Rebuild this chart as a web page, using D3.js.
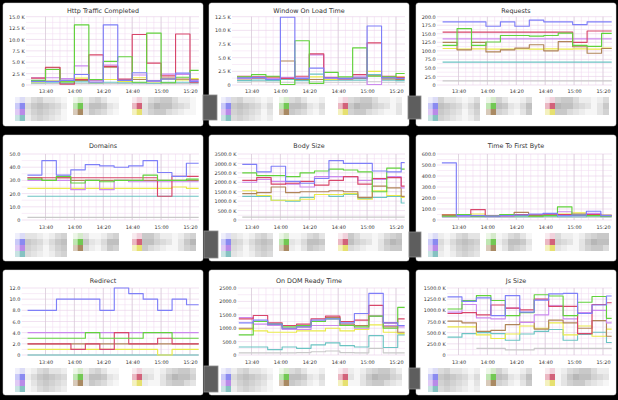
<!DOCTYPE html>
<html>
<head>
<meta charset="utf-8">
<script src="https://cdn.jsdelivr.net/npm/d3@7/dist/d3.min.js"></script>
<style>
  html, body { margin: 0; padding: 0; background: #000; }
  svg { display: block; }
  text { font-family: "DejaVu Sans", sans-serif; }
</style>
</head>
<body>
<div id="chart"></div>
<script>
// Series order used by every panel below
const seriesKeys = ['blue', 'green', 'red', 'purple', 'brown', 'yellow', 'teal', 'gray'];

// One value per 10 minute block (12 blocks), in seriesKeys order
const httpTraffic = [
    [0.8, 0.8, 1.0, 2.3, 0.6, 13.2, 1.0, 2.7, 0.9, 1.3, 2.6, 0.8],
    [1.0, 3.4, 0.7, 13.2, 1.2, 5.2, 6.2, 0.6, 11.4, 0.5, 1.7, 3.2],
    [1.5, 3.9, 0.2, 1.2, 6.6, 4.1, 1.3, 11.1, 4.8, 2.0, 11.2, 0.6],
    [1.6, 1.6, 1.4, 4.2, 0.9, 4.4, 1.0, 2.2, 0.8, 2.4, 2.3, 1.0],
    [0.9, 3.8, 1.4, 1.0, 1.0, 3.9, 1.1, 1.2, 0.9, 1.5, 1.3, 1.2],
    [0.7, 0.9, 0.8, 1.5, 0.5, 1.2, 0.8, 1.6, 0.7, 1.2, 1.1, 1.4],
    [0.5, 0.6, 0.4, 0.7, 0.4, 0.6, 0.5, 0.5, 0.4, 0.6, 0.6, 0.5],
    [0.3, 0.3, 0.3, 0.3, 0.3, 0.3, 0.3, 0.3, 0.3, 0.3, 0.3, 0.3]
];
const windowOnLoad = [
    [1.3, 1.4, 1.0, 12.4, 1.2, 3.1, 1.3, 1.2, 1.3, 10.8, 1.3, 1.2],
    [1.5, 1.9, 1.6, 0.1, 8.1, 0.3, 2.3, 1.5, 6.8, 1.6, 1.5, 2.1],
    [1.6, 1.5, 1.5, 1.2, 1.6, 5.7, 1.4, 1.2, 1.9, 7.7, 1.6, 1.4],
    [1.2, 1.3, 1.2, 1.4, 1.3, 5.5, 1.2, 1.1, 1.6, 0.1, 1.4, 1.3],
    [1.1, 1.2, 1.0, 4.4, 1.0, 1.0, 1.2, 1.0, 1.2, 1.7, 1.1, 1.0],
    [1.3, 1.4, 1.3, 1.2, 1.1, 1.5, 1.0, 1.1, 1.3, 2.5, 1.2, 1.5],
    [0.8, 0.9, 0.8, 1.0, 0.8, 2.0, 0.9, 0.9, 0.9, 1.9, 0.9, 0.8],
    [0.5, 0.6, 0.5, 0.5, 0.4, 0.6, 0.5, 0.5, 0.5, 0.6, 0.5, 0.5]
];
const requests = [
    [185, 185, 185, 172, 185, 172, 190, 185, 185, 177, 185, 185],
    [116, 165, 116, 126, 145, 145, 143, 145, 152, 116, 113, 151],
    [155, 155, 155, 155, 155, 155, 155, 155, 155, 125, 158, 158],
    [135, 135, 135, 135, 135, 135, 135, 135, 135, 135, 135, 135],
    [125, 103, 125, 97, 103, 108, 118, 100, 127, 112, 93, 107],
    [107, 105, 106, 105, 105, 106, 105, 106, 105, 106, 105, 108],
    [67, 67, 67, 67, 67, 67, 67, 67, 67, 67, 67, 67],
    [12, 12, 12, 12, 12, 12, 12, 12, 12, 12, 12, 12]
];
const domains = [
    [34, 45, 34, 38, 42, 41, 40, 41, 45, 36, 33, 43],
    [31, 30, 33, 28, 30, 29, 30, 30, 34, 30, 30, 31],
    [32, 32, 32, 32, 32, 32, 32, 32, 32, 18, 33, 33],
    [30, 30, 30, 23, 30, 23, 30, 29, 29, 29, 29, 29],
    [32, 30, 32, 30, 30, 30, 30, 30, 30, 30, 30, 30],
    [24, 24, 24, 24, 24, 24, 24, 24, 24, 24, 25, 24],
    [18, 18, 18, 18, 18, 18, 18, 18, 18, 18, 18, 18],
    [2, 2, 2, 2, 2, 2, 2, 2, 2, 2, 2, 2]
];
const bodySize = [
    [2950, 2550, 2850, 2050, 1950, 2200, 3150, 3000, 3000, 2600, 2550, 3050],
    [2500, 2350, 2350, 2300, 2500, 2600, 2700, 2650, 2550, 1500, 2750, 2700],
    [2100, 2250, 1900, 1950, 2050, 1850, 2100, 2300, 1900, 2200, 2250, 1800],
    [2000, 2150, 2050, 1900, 1750, 2300, 2300, 2300, 2100, 2150, 2300, 1700],
    [1400, 1450, 1750, 1450, 1500, 1500, 1550, 1500, 1200, 1800, 1700, 1250],
    [1550, 1300, 1050, 1050, 1100, 1350, 1350, 1400, 1100, 1550, 1300, 1200],
    [1250, 1250, 1050, 1000, 1200, 1350, 1250, 1350, 1150, 1200, 1250, 900],
    [150, 150, 150, 150, 150, 150, 150, 150, 150, 150, 150, 150]
];
const timeToFirstByte = [
    [520, 40, 40, 35, 40, 45, 55, 60, 40, 45, 80, 40],
    [35, 50, 35, 35, 50, 40, 35, 40, 120, 45, 40, 35],
    [45, 45, 95, 35, 40, 50, 45, 45, 50, 45, 50, 40],
    [30, 35, 40, 30, 35, 50, 50, 55, 75, 40, 60, 40],
    [45, 40, 35, 35, 45, 70, 40, 50, 45, 55, 50, 45],
    [50, 45, 55, 40, 35, 45, 40, 50, 55, 65, 45, 40],
    [30, 30, 30, 30, 30, 30, 30, 35, 30, 30, 35, 30],
    [25, 25, 25, 25, 25, 25, 25, 25, 25, 25, 25, 25]
];
const redirect = [
    [8, 8, 10, 10, 10, 8, 12, 11, 10, 8, 10, 9],
    [3, 3, 3, 3, 4, 3, 3, 3, 4, 4, 3, 3],
    [2, 2, 2, 1, 2, 1, 4, 2, 2, 3, 2, 2],
    [4, 4, 4, 4, 4, 4, 4, 4, 4, 4, 4, 4],
    [2, 2, 2, 2, 2, 2, 2, 2, 2, 2, 2, 2],
    [1, 1, 1, 1, 1, 1, 1, 1, 1, 0, 1, 1],
    [0, 0, 0, 0, 0, 0, 0, 0, 0, 0, 0, 0],
    [0, 0, 0, 0, 0, 0, 0, 0, 0, 0, 0, 0]
];
const domReady = [
    [1200, 1300, 1150, 1000, 1050, 1300, 1350, 1200, 1550, 2300, 1200, 1100],
    [750, 1250, 1150, 1050, 1100, 1250, 1350, 1100, 1050, 1450, 1000, 1775],
    [1350, 1475, 1200, 1100, 1150, 1350, 1450, 1250, 1300, 1850, 1200, 1350],
    [1400, 1150, 1100, 950, 950, 1100, 1100, 1100, 1000, 1450, 1100, 1050],
    [1000, 1250, 1150, 1000, 1050, 1250, 1400, 1150, 1100, 1450, 1050, 850],
    [950, 900, 850, 850, 900, 900, 1000, 900, 950, 1125, 850, 800],
    [300, 300, 200, 300, 250, 380, 450, 350, 300, 725, 280, 750],
    [80, 80, 80, 80, 90, 120, 150, 90, 80, 250, 80, 80]
];
const jsSize = [
    [1300, 1200, 1280, 880, 1330, 960, 1230, 1370, 1380, 930, 1120, 1320],
    [1030, 1220, 1330, 1220, 880, 950, 1350, 1320, 880, 1180, 1310, 820],
    [930, 950, 900, 1120, 1050, 1010, 1250, 1090, 1090, 480, 1130, 1170],
    [960, 1130, 830, 810, 1050, 730, 900, 1100, 810, 950, 1000, 720],
    [760, 720, 530, 550, 680, 730, 580, 780, 720, 600, 770, 420],
    [630, 630, 450, 370, 470, 650, 600, 720, 450, 650, 420, 580],
    [400, 480, 500, 480, 330, 470, 530, 570, 330, 460, 510, 280],
    [null, null, 150, 150, 115, 115, 150, 150, 150, 150, 150, 150]
];

const panelTitles = ['Http Traffic Completed', 'Window On Load Time', 'Requests',
    'Domains', 'Body Size', 'Time To First Byte',
    'Redirect', 'On DOM Ready Time', 'Js Size'];
const panelData = [httpTraffic, windowOnLoad, requests, domains, bodySize,
    timeToFirstByte, redirect, domReady, jsSize];
const yMaxes = [15, 12.5, 200, 50, 3500, 600, 12, 2500, 1500];
const ySteps = [2.5, 2.5, 25, 10, 500, 100, 2, 500, 250];
const kUnits = [true, true, false, false, true, false, false, false, true];
// first sample, minutes after 13:00
const blockStarts = [30, 30, 29, 27.5, 33.6, 28.5, 27.6, 31.2, 32.4];
const dataEnd = 146;

// Legend (the original is pixelated; shades 0-9 of the mosaic)
const legendSwatches = [
    ['#dcdcf6', '#8a8af0', '#b98ae8', '#86c2c2'],
    ['#d6eacc', '#72c852', '#a98a64'],
    ['#f0d2dc', '#d2627a', '#e6e070']
];
const legendMosaic = [
    ['1342210', '3565431', '2454320', '1343210'],
    ['134200', '366521', '254310'],
    ['134553110', '257664320', '245532100']
];

const seriesColors = {
    blue: '#7f7ff8', green: '#62d23c', red: '#d8466a', purple: '#cc8aee',
    brown: '#b08458', yellow: '#eaea4a', teal: '#6cc3c3', gray: '#c9c9c9'
};

// Layout
const W = 618, H = 400;
const colX = [3, 209, 416];
const panelW = 200;
const rowsLayout = [
    { y: 3, h: 123, title: 9.6, top: 13.7, bottom: 82, xlab: 87.8, legend: 94 },
    { y: 135, h: 126, title: 12.6, top: 19, bottom: 85, xlab: 92.7, legend: 98 },
    { y: 270, h: 125, title: 12.6, top: 18, bottom: 85, xlab: 92.7, legend: 98 }
];
const plotLefts = [23, 23, 21, 18.7, 28.7, 21, 18.7, 28.7, 31];
const plotRight = 196;
const legendColX = [12, 70, 129];
const tabs = [[203, 95, 14, 25], [408, 96, 13, 23], [204, 231, 14, 27],
    [409, 232, 12, 25], [204, 366, 14, 26], [409, 368, 11, 21]];

const T = m => new Date(2020, 0, 1, 13, 0, m * 60);

const svg = d3.select('#chart')
    .append('svg')
    .attr('width', W)
    .attr('height', H);

svg.append('rect').attr('width', W).attr('height', H).attr('fill', '#000');

const defs = svg.append('defs');
defs.append('filter').attr('id', 'soft')
    .append('feGaussianBlur').attr('stdDeviation', 0.45);

const x = d3.scaleTime().domain([T(40), T(140)]).range([42.5, 187]);

panelData.forEach((rows, i) => {
    const col = i % 3;
    const L = rowsLayout[Math.floor(i / 3)];
    const left = plotLefts[i];
    const g = svg.append('g').attr('transform', `translate(${colX[col]},${L.y})`);

    g.append('rect')
        .attr('width', panelW)
        .attr('height', L.h)
        .attr('rx', 2.5)
        .attr('fill', '#fff')
        .attr('stroke', '#d8d8d8')
        .attr('stroke-width', 0.5);

    g.append('text')
        .attr('x', panelW / 2)
        .attr('y', L.title)
        .attr('text-anchor', 'middle')
        .attr('font-size', '6.4px')
        .attr('fill', '#333')
        .text(panelTitles[i]);

    const y = d3.scaleLinear().domain([0, yMaxes[i]]).range([L.bottom, L.top]);
    const yTicks = d3.range(0, yMaxes[i] + ySteps[i] / 10, ySteps[i]);
    const yMinor = d3.range(ySteps[i] / 2, yMaxes[i], ySteps[i]);

    // grid
    const grid = g.append('g');
    const xMinor = x.ticks(d3.timeMinute.every(5)).filter(t => x(t) >= left && x(t) <= plotRight);
    const xMajor = x.ticks(d3.timeMinute.every(20)).filter(t => x(t) >= left && x(t) <= plotRight);
    grid.selectAll('.hmin').data(yMinor).enter().append('line')
        .attr('x1', left).attr('x2', plotRight)
        .attr('y1', d => y(d)).attr('y2', d => y(d))
        .attr('stroke', '#f3e0f3').attr('stroke-width', 0.6);
    grid.selectAll('.vmin').data(xMinor).enter().append('line')
        .attr('x1', d => x(d)).attr('x2', d => x(d))
        .attr('y1', L.top).attr('y2', L.bottom)
        .attr('stroke', '#f1dcf1').attr('stroke-width', 0.6);
    grid.selectAll('.hmaj').data(yTicks).enter().append('line')
        .attr('x1', left).attr('x2', plotRight)
        .attr('y1', d => y(d)).attr('y2', d => y(d))
        .attr('stroke', '#e8cfe8').attr('stroke-width', 0.6);
    grid.selectAll('.vmaj').data(xMajor).enter().append('line')
        .attr('x1', d => x(d)).attr('x2', d => x(d))
        .attr('y1', L.top).attr('y2', L.bottom)
        .attr('stroke', '#d2c6d2').attr('stroke-width', 0.6);

    // axes
    const fmt = v => v === 0 ? '0' : d3.format('.1f')(v) + (kUnits[i] ? ' K' : '');
    g.append('g')
        .attr('transform', `translate(${left},0)`)
        .call(d3.axisLeft(y).tickValues(yTicks).tickFormat(fmt).tickSize(0).tickPadding(1.3))
        .call(a => a.select('.domain').remove())
        .call(a => a.selectAll('text').attr('font-size', '4.9px').attr('fill', '#333')
            .attr('font-family', '"DejaVu Sans", sans-serif'));

    g.append('g')
        .attr('transform', `translate(0,${L.xlab})`)
        .call(d3.axisBottom(x).ticks(d3.timeMinute.every(20))
            .tickFormat(d3.timeFormat('%H:%M')).tickSize(0).tickPadding(0))
        .call(a => a.select('.domain').remove())
        .call(a => a.selectAll('text').attr('dy', '0.35em').attr('font-size', '4.9px')
            .attr('fill', '#333').attr('font-family', '"DejaVu Sans", sans-serif'));

    // series, clipped to the plot area (clip rect is in svg user space)
    const clipId = 'clip' + i;
    defs.append('clipPath').attr('id', clipId)
        .append('rect')
        .attr('x', colX[col] + left).attr('y', L.y + L.top - 1)
        .attr('width', plotRight - left).attr('height', L.bottom - L.top + 2);

    const line = d3.line()
        .defined(d => d.v != null)
        .x(d => x(d.t))
        .y(d => y(d.v))
        .curve(d3.curveStepAfter);

    const clipped = svg.append('g').attr('clip-path', `url(#${clipId})`)
        .append('g').attr('transform', `translate(${colX[col]},${L.y})`);

    const series = rows.map((vals, s) => {
        const start = blockStarts[i];
        const pts = vals.map((v, k) => ({ t: T(start + 10 * k), v }));
        pts.push({ t: T(dataEnd), v: vals[vals.length - 1] });
        return { key: seriesKeys[s], pts };
    }).reverse();

    clipped.selectAll('path')
        .data(series)
        .enter()
        .append('path')
        .attr('d', d => line(d.pts))
        .attr('fill', 'none')
        .attr('stroke', d => seriesColors[d.key])
        .attr('stroke-width', 1.15)
        .attr('stroke-linejoin', 'round');

    // legend (pixelated in the original)
    const leg = g.append('g').attr('filter', 'url(#soft)');
    legendSwatches.forEach((colors, c) => {
        colors.forEach((color, r) => {
            const ly = L.legend + r * 6;
            const lx = legendColX[c];
            leg.append('rect').attr('x', lx).attr('y', ly).attr('width', 4.5).attr('height', 6)
                .attr('fill', color).attr('opacity', 0.45);
            leg.append('rect').attr('x', lx + 4.5).attr('y', ly).attr('width', 5.5).attr('height', 6)
                .attr('fill', color);
            let pattern = legendMosaic[c][r];
            const shift = i % pattern.length;
            pattern = pattern.slice(shift) + pattern.slice(0, shift);
            pattern.split('').forEach((d, k) => {
                const level = 246 - (+d) * 9;
                leg.append('rect')
                    .attr('x', lx + 10 + k * 6).attr('y', ly)
                    .attr('width', 6).attr('height', 6)
                    .attr('fill', d3.rgb(level, level, level));
            });
        });
    });
});

// scroll tabs between panels
svg.selectAll('.tab')
    .data(tabs)
    .enter()
    .append('rect')
    .attr('x', d => d[0]).attr('y', d => d[1])
    .attr('width', d => d[2]).attr('height', d => d[3])
    .attr('fill', '#5e5e5e')
    .attr('stroke', '#8c8c8c')
    .attr('stroke-width', 0.8);
</script>
</body>
</html>
